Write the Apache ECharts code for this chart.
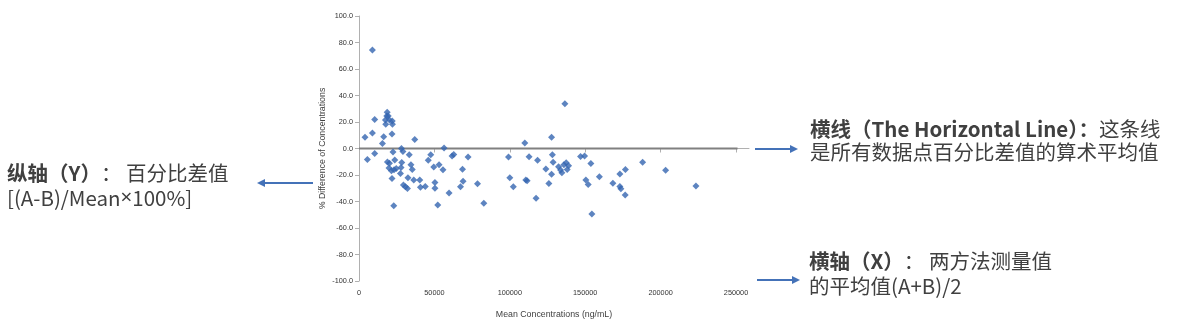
<!DOCTYPE html>
<html>
<head>
<meta charset="utf-8">
<title>Bland-Altman 百分比差值图</title>
<script src="https://cdn.jsdelivr.net/npm/echarts@6.0.0/dist/echarts.min.js"></script>
<style>
  html, body { margin: 0; padding: 0; background: #ffffff; }
  #chart { width: 1180px; height: 324px; }
</style>
</head>
<body>
<div id="chart"></div>
<script>
// Mean of the two methods, (A+B)/2, in ng/mL
const meanConc = [
  3980, 5570, 8890, 8890, 10420, 10420, 15530, 16390, 18710, 18380,
  19380, 17520, 20170, 17720, 22030, 22160, 21900, 18850, 20170, 22560,
  23690, 19910, 21500, 23230, 24690, 21900, 23030, 27470, 27870, 28340,
  28140, 29130, 29460, 30790, 32120, 32450, 33310, 34440, 35300, 36300,
  36960, 40280, 40750, 43930, 45920, 47580, 49570, 50370, 50370, 52230,
  53090, 55680, 56420, 59720, 61710, 62840, 68620, 67290, 69010, 72330,
  78570, 82750,
  99140, 100010, 102330, 109960, 110620, 111490, 112750, 117390, 118390, 123900,
  125890, 127680, 128210, 128740, 127680, 136510, 132320, 133650, 134510, 135840,
  137370, 138960, 138030, 146920, 149580, 153760, 150440, 151970, 154420, 159400,
  168350, 173000, 173000, 173660, 176650, 176520, 188070, 203330, 223430
];

// Percent difference (A-B)/Mean x 100%
const pctDiff = [
  8.5, -8.3, 74.4, 11.7, 21.8, -3.7, 3.8, 8.9, 27.3, 24.5,
  24.5, 21.5, 21.5, 18.3, 20.8, 18.3, 10.9, -10.1, -11.1, -2.6,
  -8.6, -14.8, -16.8, -16.1, -15.0, -22.6, -43.2, -18.9, -14.3, -10.5,
  0.0, -2.2, -27.6, -28.9, -30.1, -22.0, -4.8, -12.2, -15.9, -23.8,
  6.8, -23.8, -29.3, -28.6, -8.9, -4.7, -13.9, -25.6, -30.0, -42.6,
  -12.2, -16.1, 0.4, -33.6, -5.6, -4.5, -15.6, -28.9, -24.8, -6.5,
  -26.6, -41.4,
  -6.4, -22.1, -28.9, 4.2, -23.8, -24.4, -6.2, -37.6, -8.8, -15.4,
  -26.5, 8.5, -4.7, -10.3, -19.5, 33.7, -13.8, -16.3, -18.3, -12.3,
  -10.8, -13.1, -15.8, -6.0, -5.6, -11.3, -23.8, -27.2, -49.5, -21.4,
  -26.2, -19.3, -28.6, -30.4, -15.9, -35.1, -10.3, -16.5, -28.3
];

// Reference line level and its span along the x axis
const refLineLevel = 0;
const refLineSpan = [0, 251000];

// Axis ticks
const xTicks = [0, 50000, 100000, 150000, 200000, 250000];
const xMax = 258600;
const yMin = -100, yMax = 100, yStep = 20;

// Labels
const xAxisTitle = 'Mean Concentrations (ng/mL)';
const yAxisTitle = '% Difference of Concentrations';
const noteY = ['{b|纵轴（Y）}： 百分比差值', '[(A-B)/Mean{m|×}100%]'];
const noteLine = ['{b|横线（The Horizontal Line）：}这条线', '是所有数据点百分比差值的算术平均值'];
const noteX = ['{b|横轴（X）}： 两方法测量值', '的平均值(A+B)/2'];

const cjkFont = '"Noto Sans CJK SC", "Noto Sans", sans-serif';
const axisFont = '"Liberation Sans", Arial, sans-serif';
const textColor = '#404040';
const arrowColor = '#4472b8';
const noteSize = 20.5;

function noteText(x, y, text) {
  return {
    type: 'text',
    x: x,
    y: y,
    style: {
      text: text,
      fontFamily: cjkFont,
      fontSize: noteSize,
      fill: textColor,
      verticalAlign: 'middle',
      rich: {
        b: { fontFamily: cjkFont, fontSize: noteSize, fontWeight: 'bold', fill: textColor },
        m: { fontFamily: '"Noto Sans", sans-serif', fontSize: noteSize, fill: textColor }
      }
    }
  };
}

function arrow(x1, x2, y) {
  // x2 is the arrow tip
  const dir = x2 > x1 ? 1 : -1;
  return {
    type: 'group',
    children: [
      { type: 'line', shape: { x1: x1, y1: y, x2: x2 - dir * 6, y2: y }, style: { stroke: arrowColor, lineWidth: 2 } },
      { type: 'polygon', shape: { points: [[x2, y], [x2 - dir * 8, y - 4], [x2 - dir * 8, y + 4]] }, style: { fill: arrowColor } }
    ]
  };
}

const chart = echarts.init(document.getElementById('chart'));
chart.setOption({
  animation: false,
  backgroundColor: '#ffffff',
  grid: { left: 359, top: 16, width: 390, height: 265 },
  xAxis: {
    type: 'value',
    min: 0,
    max: xMax,
    interval: 50000,
    name: xAxisTitle,
    nameLocation: 'middle',
    nameGap: 29,
    nameTextStyle: { fontFamily: axisFont, fontSize: 8.8, color: textColor },
    axisLine: { show: true, lineStyle: { color: '#b0b0b0', width: 1 } },
    axisTick: { show: true, length: 4, customValues: xTicks, lineStyle: { color: '#b0b0b0' } },
    axisLabel: {
      customValues: xTicks,
      margin: 8,
      fontFamily: axisFont,
      fontSize: 7.3,
      color: '#333333',
      formatter: v => String(v)
    },
    splitLine: { show: false }
  },
  yAxis: {
    type: 'value',
    min: yMin,
    max: yMax,
    interval: yStep,
    name: yAxisTitle,
    nameLocation: 'middle',
    nameGap: 32,
    nameTextStyle: { fontFamily: axisFont, fontSize: 8.8, color: textColor },
    axisLine: { show: true, lineStyle: { color: '#b0b0b0', width: 1 } },
    axisTick: { show: true, length: 4, lineStyle: { color: '#b0b0b0' } },
    axisLabel: {
      margin: 6,
      fontFamily: axisFont,
      fontSize: 7.3,
      color: '#333333',
      formatter: v => v.toFixed(1)
    },
    splitLine: { show: false }
  },
  series: [
    {
      type: 'line',
      data: refLineSpan.map(x => [x, refLineLevel]),
      symbol: 'none',
      lineStyle: { color: '#808080', width: 2 },
      z: 1,
      silent: true
    },
    {
      type: 'scatter',
      data: meanConc.map((x, i) => [x, pctDiff[i]]),
      symbol: 'diamond',
      symbolSize: 7,
      itemStyle: { color: '#3465b0' },
      z: 3
    }
  ],
  graphic: [
    noteText(7, 173, noteY[0]),
    noteText(7, 198, noteY[1]),
    arrow(313, 257, 183),
    noteText(810, 129, noteLine[0]),
    noteText(810, 152, noteLine[1]),
    arrow(755, 798, 149),
    noteText(809, 261, noteX[0]),
    noteText(809, 286, noteX[1]),
    arrow(757, 800, 280)
  ]
});
</script>
</body>
</html>
